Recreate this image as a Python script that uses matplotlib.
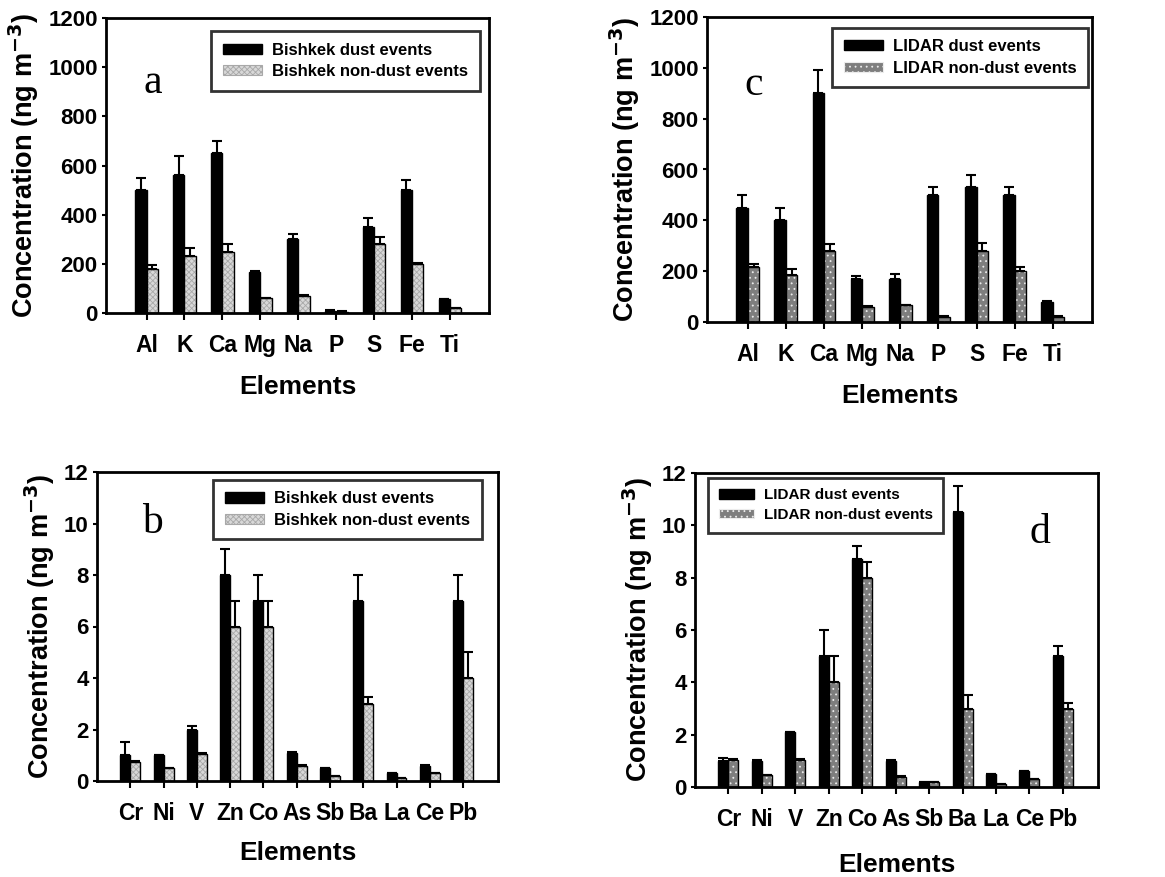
import numpy as np
import matplotlib
matplotlib.use("Agg")
import matplotlib.pyplot as plt
from matplotlib.patches import Patch

plt.rcParams['font.family'] = ['Liberation Sans', 'DejaVu Sans']
plt.rcParams['font.weight'] = 'bold'
plt.rcParams['hatch.linewidth'] = 0.6

# major elements (ng m-3)
major = ['Al', 'K', 'Ca', 'Mg', 'Na', 'P', 'S', 'Fe', 'Ti']
bish_dust = [500, 560, 650, 165, 300, 10, 350, 500, 55]
bish_dust_err = [50, 80, 50, 5, 20, 3, 35, 40, 3]
bish_non = [180, 230, 250, 60, 70, 5, 280, 200, 20]
bish_non_err = [15, 35, 30, 3, 3, 2, 30, 5, 2]

lidar_dust = [450, 400, 900, 170, 170, 500, 530, 500, 80]
lidar_dust_err = [50, 50, 90, 10, 20, 30, 50, 30, 3]
lidar_non = [215, 185, 280, 60, 65, 20, 280, 200, 20]
lidar_non_err = [15, 25, 25, 3, 3, 2, 30, 15, 2]

# trace elements (ng m-3)
trace = ['Cr', 'Ni', 'V', 'Zn', 'Co', 'As', 'Sb', 'Ba', 'La', 'Ce', 'Pb']
bish_dust_t = [1.0, 1.0, 2.0, 8.0, 7.0, 1.1, 0.5, 7.0, 0.3, 0.6, 7.0]
bish_dust_t_err = [0.5, 0.02, 0.15, 1.0, 1.0, 0.02, 0.02, 1.0, 0.01, 0.02, 1.0]
bish_non_t = [0.75, 0.5, 1.05, 6.0, 6.0, 0.6, 0.2, 3.0, 0.1, 0.3, 4.0]
bish_non_t_err = [0.02, 0.02, 0.05, 1.0, 1.0, 0.02, 0.01, 0.25, 0.01, 0.02, 1.0]

lidar_dust_t = [1.0, 1.0, 2.1, 5.0, 8.7, 1.0, 0.2, 10.5, 0.5, 0.6, 5.0]
lidar_dust_t_err = [0.1, 0.02, 0.02, 1.0, 0.5, 0.02, 0.01, 1.0, 0.01, 0.02, 0.4]
lidar_non_t = [1.05, 0.45, 1.05, 4.0, 8.0, 0.4, 0.2, 3.0, 0.1, 0.3, 3.0]
lidar_non_t_err = [0.02, 0.02, 0.02, 1.0, 0.6, 0.02, 0.01, 0.5, 0.01, 0.02, 0.2]

W, H = 1165, 877
fig = plt.figure(figsize=(W / 100, H / 100), dpi=100)


def px_axes(left, top, right, bottom):
    return fig.add_axes([left / W, (H - bottom) / H, (right - left) / W, (bottom - top) / H])


BISH_FILL = ('#d8d8d8', '#a8a8a8', 'xxxxxx')
LIDAR_FILL = ('#7e7e7e', '#ececec', '...')


def panel(ax, cats, dust, derr, non, nerr, style, labels, ymax, step, letter,
          letter_xy, leg_bbox, leg_size, xlim, xlpad):
    x = np.arange(len(cats))
    w = 0.3
    face, hcol, hatch = style
    ax.bar(x - w / 2, dust, w, color='black', edgecolor='black', linewidth=1.0, zorder=2)
    ax.bar(x + w / 2, non, w, color=face, edgecolor=hcol, hatch=hatch, linewidth=0, zorder=2)
    ax.bar(x + w / 2, non, w, fill=False, edgecolor='black', linewidth=1.0, zorder=3)
    ax.errorbar(x - w / 2, dust, yerr=[np.zeros(len(dust)), derr], fmt='none',
                ecolor='black', elinewidth=1.5, capsize=3.5, capthick=1.5, zorder=4)
    ax.errorbar(x + w / 2, non, yerr=[np.zeros(len(non)), nerr], fmt='none',
                ecolor='black', elinewidth=1.5, capsize=3.5, capthick=1.5, zorder=4)
    ax.set_xlim(*xlim)
    ax.set_ylim(0, ymax)
    ax.set_yticks(np.arange(0, ymax + step / 2, step))
    ax.set_xticks(x)
    ax.set_xticklabels(cats)
    for s in ax.spines.values():
        s.set_linewidth(2.0)
    ax.tick_params(axis='x', direction='out', length=5, width=1.5, pad=10, labelsize=16.5)
    ax.tick_params(axis='y', direction='out', length=3, width=1.5, pad=3, labelsize=16)
    ax.set_xlabel('Elements', fontsize=19, fontweight='bold', labelpad=xlpad)
    ax.set_ylabel('Concentration (ng m$^{\\mathbf{-3}}$)', fontsize=19.5, fontweight='bold', labelpad=5)
    ax.text(letter_xy[0], letter_xy[1], letter, transform=ax.transAxes,
            fontsize=30, fontweight='normal', family='Liberation Serif', ha='center', va='center')
    handles = [Patch(facecolor='black', edgecolor='black'),
               Patch(facecolor=face, edgecolor=hcol, hatch=hatch, linewidth=0.8)]
    leg = ax.legend(handles, labels, loc='upper left', bbox_to_anchor=leg_bbox,
                    frameon=True, fancybox=False, edgecolor='black', fontsize=leg_size,
                    handlelength=2.35, handleheight=0.55, handletextpad=0.6, borderpad=0.7,
                    labelspacing=0.38, borderaxespad=0)
    leg.get_frame().set_linewidth(2.0)


ax_a = px_axes(106, 18, 489, 313)
panel(ax_a, major, bish_dust, bish_dust_err, bish_non, bish_non_err, BISH_FILL,
      ['Bishkek dust events', 'Bishkek non-dust events'], 1200, 200, 'a',
      (0.123, 0.78), (0.275, 0.955), 12, (-1.07, 9.03), 13)

ax_c = px_axes(707, 17, 1092, 322)
panel(ax_c, major, lidar_dust, lidar_dust_err, lidar_non, lidar_non_err, LIDAR_FILL,
      ['LIDAR dust events', 'LIDAR non-dust events'], 1200, 200, 'c',
      (0.12, 0.777), (0.325, 0.965), 12, (-1.07, 9.03), 13)

ax_b = px_axes(97, 472, 498, 781)
panel(ax_b, trace, bish_dust_t, bish_dust_t_err, bish_non_t, bish_non_t_err, BISH_FILL,
      ['Bishkek dust events', 'Bishkek non-dust events'], 12, 2, 'b',
      (0.137, 0.835), (0.29, 0.975), 12, (-1.0, 11.05), 12)

ax_d = px_axes(695, 473, 1098, 787)
panel(ax_d, trace, lidar_dust_t, lidar_dust_t_err, lidar_non_t, lidar_non_t_err, LIDAR_FILL,
      ['LIDAR dust events', 'LIDAR non-dust events'], 12, 2, 'd',
      (0.856, 0.81), (0.032, 0.985), 11, (-1.0, 11.05), 16)

fig.savefig('out.png', dpi=100)
